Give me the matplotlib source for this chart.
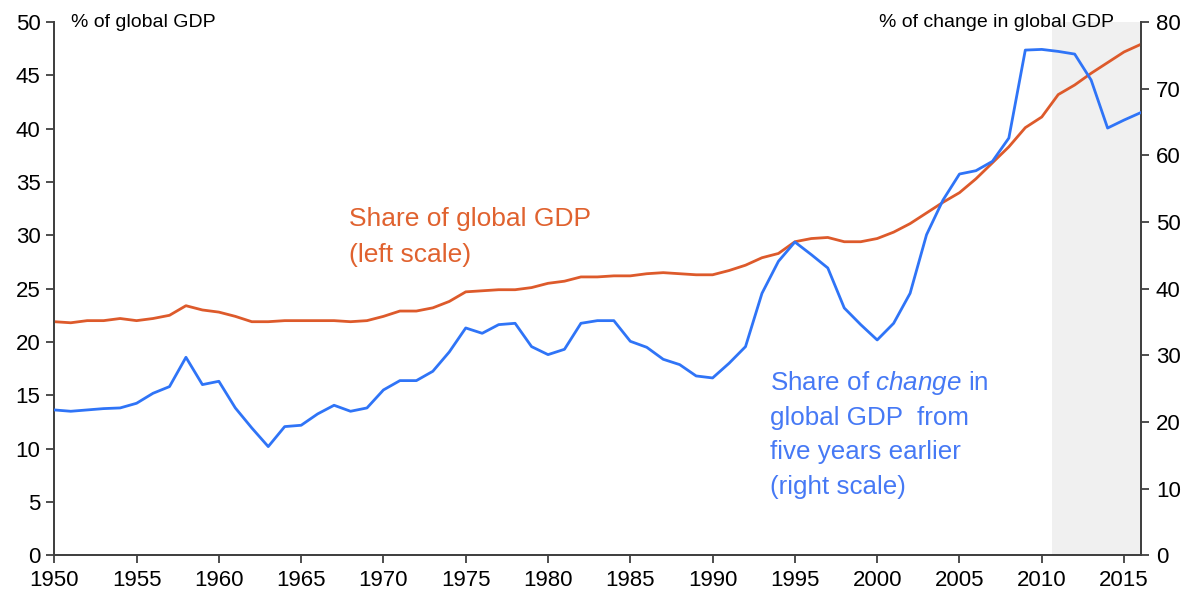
import numpy as np
import matplotlib.pyplot as plt

plt.rcParams['font.family'] = ['Liberation Sans', 'DejaVu Sans']
plt.rcParams['mathtext.fontset'] = 'custom'
plt.rcParams['mathtext.it'] = 'Liberation Sans:italic'
plt.rcParams['mathtext.rm'] = 'Liberation Sans'

# data
years = np.arange(1950, 2017)

share_gdp = [21.9, 21.8, 22.0, 22.0, 22.2, 22.0, 22.2, 22.5, 23.4, 23.0,
             22.8, 22.4, 21.9, 21.9, 22.0, 22.0, 22.0, 22.0, 21.9, 22.0,
             22.4, 22.9, 22.9, 23.2, 23.8, 24.7, 24.8, 24.9, 24.9, 25.1,
             25.5, 25.7, 26.1, 26.1, 26.2, 26.2, 26.4, 26.5, 26.4, 26.3,
             26.3, 26.7, 27.2, 27.9, 28.3, 29.4, 29.7, 29.8, 29.4, 29.4,
             29.7, 30.3, 31.1, 32.1, 33.1, 34.0, 35.3, 36.8, 38.3, 40.1,
             41.1, 43.2, 44.1, 45.2, 46.2, 47.2, 47.9]

share_change = [21.8, 21.6, 21.8, 22.0, 22.1, 22.8, 24.3, 25.3, 29.7, 25.6,
                26.1, 22.1, 19.1, 16.3, 19.3, 19.5, 21.2, 22.5, 21.6, 22.1,
                24.8, 26.2, 26.2, 27.6, 30.5, 34.1, 33.3, 34.6, 34.8, 31.3,
                30.1, 30.9, 34.8, 35.2, 35.2, 32.1, 31.2, 29.4, 28.6, 26.9,
                26.6, 28.8, 31.3, 39.3, 44.1, 47.0, 45.1, 43.1, 37.1, 34.6,
                32.3, 34.8, 39.3, 48.1, 53.3, 57.2, 57.7, 59.1, 62.6, 75.8,
                75.9, 75.6, 75.2, 71.3, 64.1, 65.3, 66.4]

left_ticks = np.arange(0, 51, 5)
right_ticks = np.arange(0, 81, 10)
x_ticks = np.arange(1950, 2016, 5)

orange = '#DD5A2B'
blue = '#2F74F7'
orange_txt = '#E0622F'
blue_txt = '#4679F5'
axis_col = '#404040'

fig = plt.figure(figsize=(11.93, 5.97), dpi=100)
ax = fig.add_subplot(111)
fig.subplots_adjust(left=0.0455, right=0.956, bottom=0.070, top=0.963)
ax2 = ax.twinx()

# forecast shading
ax.axvspan(2010.6, 2016, color='#F0F0F0', lw=0, zorder=0)

ax.plot(years, share_gdp, color=orange, lw=2.0, zorder=3)
ax2.plot(years, share_change, color=blue, lw=2.0, zorder=3)

ax.set_xlim(1950, 2016)
ax.set_ylim(0, 50)
ax2.set_ylim(0, 80)
ax.set_xticks(x_ticks)
ax.set_yticks(left_ticks)
ax2.set_yticks(right_ticks)

for a in (ax, ax2):
    a.spines['top'].set_visible(False)
    for s in ('left', 'right', 'bottom'):
        a.spines[s].set_color(axis_col)
        a.spines[s].set_linewidth(1.3)
    a.tick_params(axis='both', direction='out', length=6, width=1.3,
                  color=axis_col, labelsize=16, labelcolor='black')
ax.tick_params(axis='x', pad=5)
ax.tick_params(axis='y', pad=4)
ax2.tick_params(axis='y', pad=5)

# unit labels
ax.text(0.015, 1.0, '% of global GDP', transform=ax.transAxes,
        fontsize=14, ha='left', va='center')
ax.text(0.976, 1.0, '% of change in global GDP', transform=ax.transAxes,
        fontsize=14, ha='right', va='center')

# series labels
ax.text(1967.9, 31.5, 'Share of global GDP', color=orange_txt,
        fontsize=19, ha='left', va='center')
ax.text(1967.9, 28.2, '(left scale)', color=orange_txt,
        fontsize=19, ha='left', va='center')

blue_lines = [r'Share of $\mathit{change}$ in', 'global GDP  from',
              'five years earlier', '(right scale)']
blue_y = [25.9, 20.6, 15.5, 10.3]
for txt, yy in zip(blue_lines, blue_y):
    ax2.text(1993.5, yy, txt, color=blue_txt, fontsize=18.7,
             ha='left', va='center')

plt.savefig('out.png', dpi=100)
